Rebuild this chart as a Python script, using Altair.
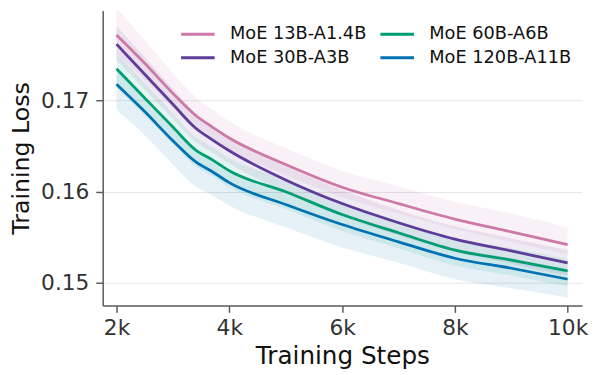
import altair as alt
import pandas as pd

steps = [2000, 2500, 3000, 3400, 3700, 4000, 5000, 6000, 7000, 8000, 9000, 10000]
series_names = ["MoE 13B-A1.4B", "MoE 30B-A3B", "MoE 60B-A6B", "MoE 120B-A11B"]

loss_13b = [0.1772, 0.1741, 0.1708, 0.1684, 0.1671, 0.1659, 0.1630, 0.1605, 0.1587, 0.1570, 0.1556, 0.1542]
loss_30b = [0.1762, 0.1729, 0.1696, 0.1670, 0.1657, 0.1645, 0.1613, 0.1587, 0.1566, 0.1548, 0.1535, 0.1522]
loss_60b = [0.1735, 0.1703, 0.1671, 0.1646, 0.1635, 0.1623, 0.1600, 0.1575, 0.1555, 0.1536, 0.1525, 0.1513]
loss_120b = [0.1718, 0.1688, 0.1656, 0.1633, 0.1622, 0.1610, 0.1586, 0.1564, 0.1545, 0.1527, 0.1516, 0.1504]

# raw-noise envelopes (upper / lower)
hi_13b = [0.1802, 0.1766, 0.1730, 0.1704, 0.1690, 0.1677, 0.1648, 0.1623, 0.1606, 0.1589, 0.1576, 0.1561]
lo_13b = [0.1752, 0.1723, 0.1692, 0.1670, 0.1657, 0.1646, 0.1618, 0.1594, 0.1576, 0.1559, 0.1545, 0.1531]
hi_30b = [0.1782, 0.1748, 0.1713, 0.1686, 0.1672, 0.1660, 0.1628, 0.1602, 0.1580, 0.1562, 0.1549, 0.1536]
lo_30b = [0.1744, 0.1712, 0.1680, 0.1655, 0.1643, 0.1631, 0.1599, 0.1573, 0.1552, 0.1534, 0.1521, 0.1508]
hi_60b = [0.1752, 0.1719, 0.1686, 0.1660, 0.1649, 0.1637, 0.1613, 0.1588, 0.1568, 0.1549, 0.1538, 0.1526]
lo_60b = [0.1714, 0.1684, 0.1652, 0.1628, 0.1617, 0.1605, 0.1581, 0.1557, 0.1538, 0.1519, 0.1508, 0.1496]
hi_120b = [0.1734, 0.1702, 0.1670, 0.1646, 0.1635, 0.1622, 0.1598, 0.1575, 0.1556, 0.1538, 0.1527, 0.1515]
lo_120b = [0.1690, 0.1662, 0.1630, 0.1606, 0.1596, 0.1585, 0.1561, 0.1539, 0.1522, 0.1504, 0.1494, 0.1484]

x_ticks = [2000, 4000, 6000, 8000, 10000]
y_ticks = [0.15, 0.16, 0.17]

colors = {"MoE 13B-A1.4B": "#CC79A7", "MoE 30B-A3B": "#5E3C99",
          "MoE 60B-A6B": "#009E73", "MoE 120B-A11B": "#0072B2"}

rows = []
for name, mid, hi, lo in zip(series_names,
                             [loss_13b, loss_30b, loss_60b, loss_120b],
                             [hi_13b, hi_30b, hi_60b, hi_120b],
                             [lo_13b, lo_30b, lo_60b, lo_120b]):
    for s, m, h, l in zip(steps, mid, hi, lo):
        rows.append({"series": name, "step": s, "loss": m, "hi": h, "lo": l})
df = pd.DataFrame(rows)

legend_order = series_names
band_order = list(reversed(series_names))
color_scale = alt.Scale(domain=legend_order, range=[colors[n] for n in legend_order])
fill_scale = alt.Scale(domain=band_order, range=[colors[n] for n in band_order])
font = "DejaVu Sans"

xscale = alt.Scale(domain=[1755, 10257], nice=False, zero=False)
yscale = alt.Scale(domain=[0.14752, 0.1799], nice=False, zero=False)

xaxis = alt.Axis(values=x_ticks, labelExpr="datum.value / 1000 + 'k'", grid=False,
                 title="Training Steps", labelFontSize=22, titleFontSize=25,
                 labelPadding=5, titlePadding=6)
yaxis = alt.Axis(values=y_ticks, format=".2f", grid=True, title="Training Loss",
                 labelFontSize=22, titleFontSize=24, labelPadding=7, titlePadding=7)

band = alt.Chart(df).mark_area(opacity=0.10, clip=True, interpolate="monotone").encode(
    x=alt.X("step:Q", scale=xscale, axis=xaxis),
    y=alt.Y("lo:Q", scale=yscale, axis=yaxis),
    y2="hi:Q",
    fill=alt.Fill("series:N", scale=fill_scale, legend=None),
    detail="series:N",
)

lines = alt.Chart(df).mark_line(strokeWidth=2.8, clip=True, interpolate="monotone").encode(
    x=alt.X("step:Q", scale=xscale, axis=xaxis),
    y=alt.Y("loss:Q", scale=yscale, axis=yaxis),
    color=alt.Color("series:N", scale=color_scale,
                    legend=alt.Legend(title=None, orient="none", legendX=86.5, legendY=14,
                                      columns=2, symbolType="M-2,0H2", symbolSize=289,
                                      symbolStrokeWidth=3, labelFontSize=18,
                                      labelFont=font, labelColor="#111", labelOffset=22.5,
                                      columnPadding=8, rowPadding=5, padding=0)),
)

chart = alt.layer(band, lines).properties(
    width=486, height=299,
    autosize=alt.AutoSizeParams(type="none"),
    padding={"left": 96, "top": 0, "right": 9, "bottom": 66},
).configure_view(stroke=None).configure_axis(
    labelFont=font, titleFont=font, labelColor="#333333", titleColor="#111111",
    titleFontWeight="normal", domainColor="#5a5a5a", domainWidth=1.5,
    tickColor="#5a5a5a", tickWidth=1.5, tickSize=7, gridColor="#e6e6e6", gridWidth=1,
)

chart.save("out.html", embed_options={"renderer": "svg", "actions": False})
